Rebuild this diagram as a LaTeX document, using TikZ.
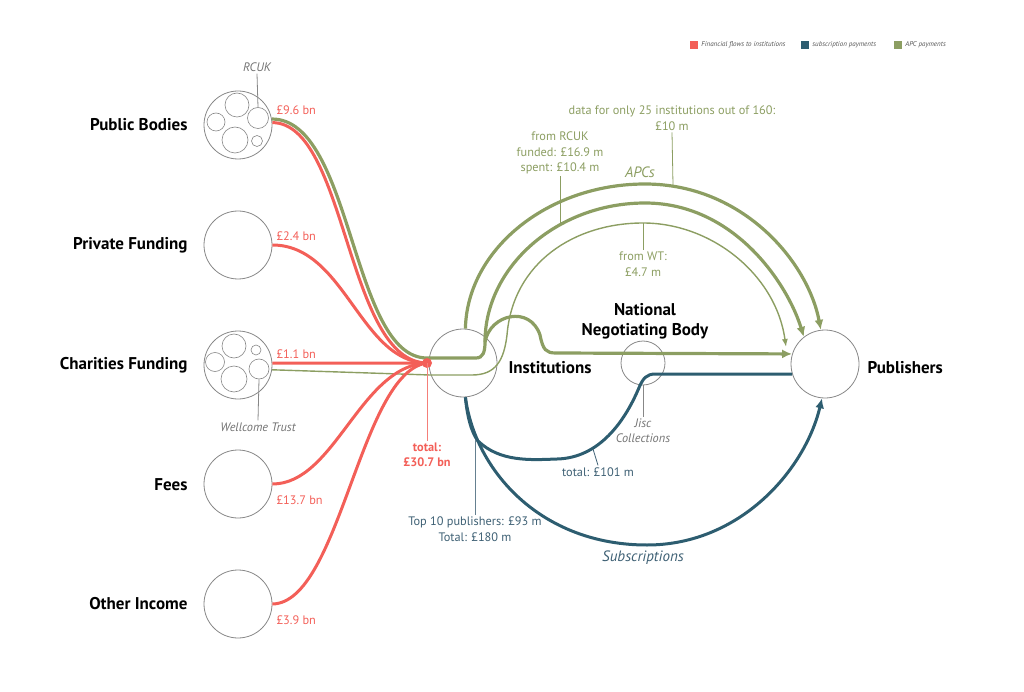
\documentclass[tikz,border=0pt]{standalone}
\usepackage{fontspec}
\setmainfont{PT Sans}
\usetikzlibrary{positioning,arrows.meta}
\definecolor{FlowRed}{RGB}{243,95,88}
\definecolor{ApcGreen}{RGB}{140,158,98}
\definecolor{SubTeal}{RGB}{45,93,112}
\definecolor{SubText}{RGB}{62,96,116}
\definecolor{RingGray}{RGB}{135,135,135}
\definecolor{NoteGray}{RGB}{115,115,115}
\definecolor{KeyGray}{RGB}{85,85,85}

\begin{document}
\begin{tikzpicture}[
    x=1pt,
    y=-1pt,
    font=\fontsize{12.3}{15.5}\selectfont,
    >={Latex[length=10pt,width=9pt]},
    source/.style={
        circle,
        draw=RingGray,
        line width=0.8pt,
        minimum size=68pt,
        inner sep=0pt
    },
    member/.style={
        circle,
        draw=RingGray,
        line width=0.6pt,
        inner sep=0pt
    },
    rowname/.style={
        anchor=east,
        font=\bfseries\fontsize{17}{20}\selectfont
    },
    hubname/.style={
        align=center,
        font=\bfseries\fontsize{17}{20}\selectfont
    },
    amount/.style={anchor=west, text=FlowRed},
    note/.style={align=center, inner sep=2pt},
    fund/.style={draw=FlowRed, line width=3pt},
    apc/.style={draw=ApcGreen, line width=3.2pt},
    apcthin/.style={draw=ApcGreen, line width=1.4pt},
    subs/.style={draw=SubTeal, line width=3pt},
    pointer/.style={line width=0.8pt},
    keybox/.style={minimum size=8pt, inner sep=0pt},
    keytext/.style={
        right=3pt of #1,
        inner sep=0pt,
        text=KeyGray,
        font=\itshape\fontsize{7}{8}\selectfont
    }
]
\useasboundingbox (0,0) rectangle (1024,692);

% sources
\node[source] (pub)   at (238,125) {};
\node[source] (priv)  at (238,245) {};
\node[source] (char)  at (238,365) {};
\node[source] (fees)  at (238,484) {};
\node[source] (other) at (238,604) {};

\foreach \cx/\cy/\d [count=\k] in {237/105/24, 216/122/18, 258/118/21, 235/140/26, 257/141/11}
    \node[member, minimum size=\d pt] (pbm\k) at (\cx,\cy) {};
\foreach \cx/\cy/\d [count=\k] in {234/346/24, 256/350/10, 215/362/19, 234/379/26, 259/369/20}
    \node[member, minimum size=\d pt] (chm\k) at (\cx,\cy) {};

\node[rowname] (pubname)   at (191,125) {Public Bodies};
\node[rowname] (privname)  at (191,245) {Private Funding};
\node[rowname] (charname)  at (191,365) {Charities Funding};
\node[rowname] (feesname)  at (191,485) {Fees};
\node[rowname] (othername) at (191,604) {Other Income};

\node[note, text=NoteGray, font=\itshape\fontsize{12.3}{14}\selectfont] (rcuk) at (257,67) {RCUK};
\node[note, text=NoteGray, font=\itshape\fontsize{12.3}{14}\selectfont] (wt) at (258,427) {Wellcome Trust};
\draw[pointer, draw=RingGray] (pbm3.north) -- (rcuk.south);
\draw[pointer, draw=RingGray] (chm5.south) -- (wt.north);

% targets
\node[source] (inst) at (463,363) {};
\node[source] (publ) at (825,364) {};
\node[source, minimum size=44pt] (nnb) at (643,363) {};
\node[hubname, anchor=west] (instname) at (505,368) {Institutions};
\node[hubname, anchor=west] (publname) at (864,368) {Publishers};
\node[hubname] (nnbname) at (645,321) {National\\Negotiating Body};

% junctions
\coordinate (apcturn) at (485,342);
\coordinate (thintip) at (786,347);
\coordinate (rcukhit) at (560,224);
\coordinate (sharehit) at (673,185);
\coordinate (wthit) at (643,223);
\coordinate (jischit) at (593,449);
\coordinate (splithit) at (475,440);

% APC payments
\draw[apcthin, -{Latex[length=8pt,width=6pt]}] (char.-8) -- (430,375) -- (472,375)
    .. controls (496,375) and (504,360) .. (507,335)
    .. controls (513,262) and (575,223) .. (643,223)
    .. controls (712,223) and (776,275) .. (thintip);
\draw[apc, ->] (inst.86) .. controls (467,250) and (547,184) .. (645,184)
    .. controls (743,184) and (808,262) .. (publ.97);
\draw[apc, ->] (apcturn) .. controls (490,314) and (530,305) .. (540,335)
    .. controls (543,350) and (546,353) .. (556,353) -- (publ.163);
\draw[apc, ->] (pub.10) .. controls (353,119) and (351,358) .. (427,358) -- (476,358)
    .. controls (483,358) and (485,352) .. (apcturn)
    .. controls (485,267) and (557,203) .. (645,203)
    .. controls (735,203) and (788,285) .. (publ.128);

% financial flows
\draw[fund] (pub.4) .. controls (347,123) and (346,362) .. (427,363);
\draw[fund] (priv.east) .. controls (345,245) and (360,362) .. (427,363);
\draw[fund] (char.3) -- (427,363);
\draw[fund] (fees.east) .. controls (335,484) and (360,366) .. (427,363);
\draw[fund] (other.east) .. controls (340,603) and (360,372) .. (427,363);
\node[circle, fill=FlowRed, minimum size=10pt, inner sep=0pt] (hub) at (427,363) {};

\node[amount] (pubval)   at (273,110) {£9.6 bn};
\node[amount] (privval)  at (273,236) {£2.4 bn};
\node[amount] (charval)  at (273,354) {£1.1 bn};
\node[amount] (feesval)  at (273,500) {£13.7 bn};
\node[amount] (otherval) at (273,620) {£3.9 bn};

\node[note, text=FlowRed, font=\bfseries\fontsize{12.3}{15.5}\selectfont] (total) at (427,455) {total:\\£30.7 bn};
\draw[pointer, draw=FlowRed!80] (hub.center) -- (total.north);

% subscription payments
\draw[subs] (inst.-86) .. controls (467,415) and (471,432) .. (478,441)
    .. controls (500,462) and (530,460) .. (557,459)
    .. controls (600,458) and (625,420) .. (638,390)
    .. controls (643,378) and (646,374) .. (656,374) -- (publ.-163);
\draw[subs, ->] (inst.-86) .. controls (475,470) and (540,545) .. (647,545)
    .. controls (740,545) and (805,470) .. (publ.265);

% labels
\node[note, text=ApcGreen] (rcuklbl) at (560,153) {from RCUK\\funded: £16.9 m\\spent: £10.4 m};
\node[note, text=ApcGreen] (sharelbl) at (672,118) {data for only 25 institutions out of 160:\\£10 m};
\node[note, text=ApcGreen] (wtlbl) at (643,264) {from WT:\\£4.7 m};
\node[note, text=ApcGreen, font=\itshape\fontsize{15}{17}\selectfont] (apcs) at (640,172) {APCs};
\draw[pointer, draw=ApcGreen] (rcuklbl.south) -- (rcukhit);
\draw[pointer, draw=ApcGreen] (sharelbl.south) -- (sharehit);
\draw[pointer, draw=ApcGreen] (wthit) -- (wtlbl.north);

\node[note, text=NoteGray, font=\itshape\fontsize{12.3}{15}\selectfont] (jisclbl) at (643,431) {Jisc\\Collections};
\node[note, text=SubText] (sublbl) at (598,472) {total: £101 m};
\node[note, text=SubText] (toplbl) at (475,529) {Top 10 publishers: £93 m\\Total: £180 m};
\node[note, text=SubText, font=\itshape\fontsize{15}{17}\selectfont] (subsname) at (643,558) {Subscriptions};
\draw[pointer, draw=RingGray] (nnb.south) -- (jisclbl.north);
\draw[pointer, draw=SubText] (jischit) -- (sublbl.north);
\draw[pointer, draw=SubText!80] (splithit) -- (toplbl.north);

% legend
\node[keybox, fill=FlowRed] (keyfund) at (694,45) {};
\node[keytext=keyfund] (keyfundtxt) {Financial flows to institutions};
\node[keybox, fill=SubTeal] (keysubs) at (805,45) {};
\node[keytext=keysubs] (keysubstxt) {subscription payments};
\node[keybox, fill=ApcGreen] (keyapc) at (898,45) {};
\node[keytext=keyapc] (keyapctxt) {APC payments};

\end{tikzpicture}
\end{document}
